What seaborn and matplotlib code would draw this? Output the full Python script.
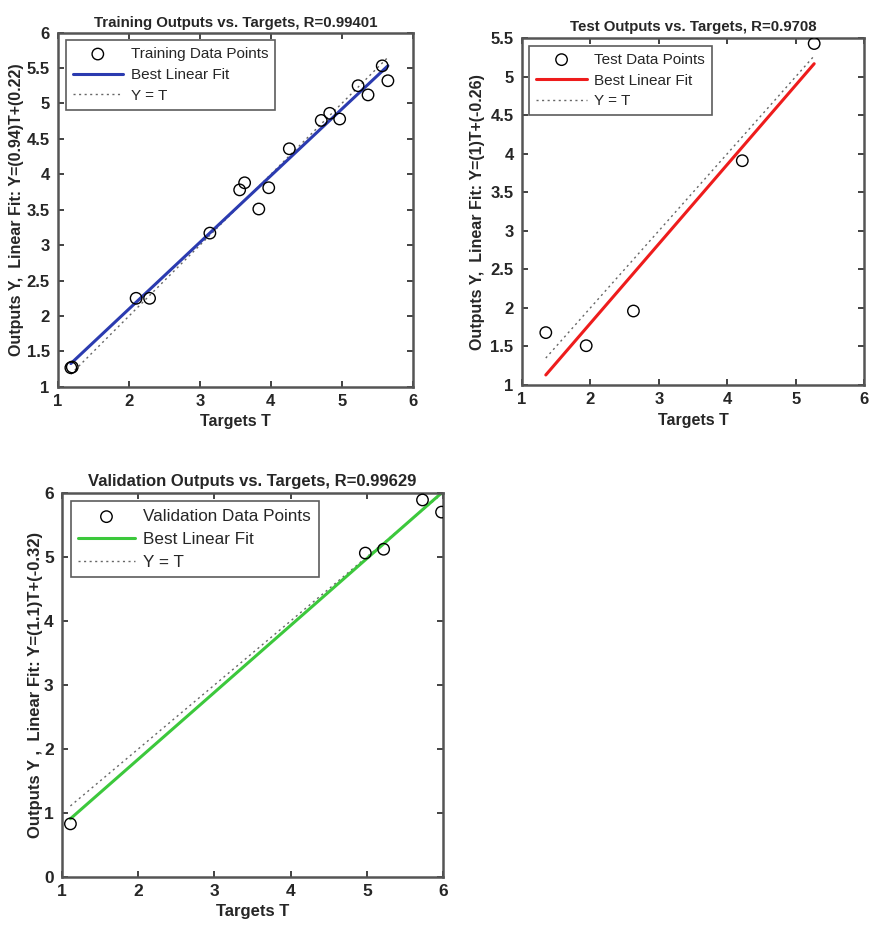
import numpy as np
import pandas as pd
import matplotlib
matplotlib.use("Agg")
import matplotlib.pyplot as plt
import seaborn as sns
from matplotlib import font_manager

sns.set_theme(style="white")

# ---------------- data ----------------
train_T = [1.18, 1.20, 2.10, 2.29, 3.14, 3.56, 3.63, 3.83, 3.97, 4.26, 4.71, 4.83, 4.97, 5.23, 5.37, 5.57, 5.65]
train_Y = [1.27, 1.28, 2.25, 2.25, 3.17, 3.78, 3.88, 3.51, 3.81, 4.36, 4.76, 4.86, 4.78, 5.25, 5.12, 5.53, 5.32]
train_fit = (0.94, 0.22)

test_T = [1.35, 1.94, 2.63, 4.22, 5.27]
test_Y = [1.68, 1.51, 1.96, 3.91, 5.43]
test_fit = (1.03, -0.26)

val_T = [1.11, 4.98, 5.22, 5.73, 5.98]
val_Y = [0.83, 5.06, 5.12, 5.89, 5.70]
val_fit = (1.045, -0.25)

titles = ["Training Outputs vs. Targets, R=0.99401",
          "Test Outputs vs. Targets, R=0.9708",
          "Validation Outputs vs. Targets, R=0.99629"]
ylabels = ["Outputs Y,  Linear Fit: Y=(0.94)T+(0.22)",
           "Outputs Y,  Linear Fit: Y=(1)T+(-0.26)",
           "Outputs Y ,  Linear Fit: Y=(1.1)T+(-0.32)"]
point_labels = ["Training Data Points", "Test Data Points", "Validation Data Points"]
fit_colors = ["#2b3bb0", "#ee1c1c", "#3cc83c"]
xticks = [1, 2, 3, 4, 5, 6]
yticks_list = [[1, 1.5, 2, 2.5, 3, 3.5, 4, 4.5, 5, 5.5, 6],
               [1, 1.5, 2, 2.5, 3, 3.5, 4, 4.5, 5, 5.5],
               [0, 1, 2, 3, 4, 5, 6]]
ylims = [(1, 6), (1, 5.5), (0, 6)]

# ---------------- fonts ----------------
names = {f.name for f in font_manager.fontManager.ttflist}
bold_font = "Liberation Sans Narrow" if "Liberation Sans Narrow" in names else "Liberation Sans"
plt.rcParams['font.family'] = ['Liberation Sans', 'DejaVu Sans']

fig = plt.figure(figsize=(8.8, 9.3), dpi=100)
positions = [[0.066, 0.584, 0.403, 0.381],
             [0.593, 0.586, 0.389, 0.373],
             [0.0705, 0.057, 0.433, 0.413]]
title_sizes = [10.8, 10.8, 12]
label_sizes = [11.5, 11.5, 12]
tick_sizes = [12, 12, 12.5]
legend_sizes = [11, 11, 12.3]
title_pads = [4, 5, 5]
ylabel_pads = [2, 4, 1]

datasets = [(train_T, train_Y, train_fit), (test_T, test_Y, test_fit), (val_T, val_Y, val_fit)]

for i, (T, Y, fit) in enumerate(datasets):
    ax = fig.add_axes(positions[i])
    df = pd.DataFrame({"T": T, "Y": Y})
    sns.scatterplot(data=df, x="T", y="Y", ax=ax, marker="o", s=68,
                    facecolors="none", edgecolor="black", linewidth=1.0,
                    label=point_labels[i], zorder=3)
    tx = np.array([min(T), max(T)])
    fit_df = pd.DataFrame({"T": tx, "Y": fit[0] * tx + fit[1]})
    sns.lineplot(data=fit_df, x="T", y="Y", ax=ax, color=fit_colors[i], lw=2.2,
                 label="Best Linear Fit", zorder=2)
    id_df = pd.DataFrame({"T": tx, "Y": tx})
    sns.lineplot(data=id_df, x="T", y="Y", ax=ax, color="#666666", lw=1.0,
                 linestyle=(0, (1.5, 2.5)), label="Y = T", zorder=1)

    ax.set_xlim(1, 6)
    ax.set_ylim(*ylims[i])
    ax.set_xticks(xticks)
    ax.set_yticks(yticks_list[i])
    ax.set_xticklabels([f"{v:g}" for v in xticks], fontfamily=bold_font,
                       fontweight="bold", fontsize=tick_sizes[i])
    ax.set_yticklabels([f"{v:g}" for v in yticks_list[i]], fontfamily=bold_font,
                       fontweight="bold", fontsize=tick_sizes[i])
    ax.tick_params(direction="in", length=4, width=1.2, top=True, right=True,
                   bottom=True, left=True, color="#222222")
    ax.tick_params(axis="x", pad=5)
    ax.tick_params(axis="y", pad=6)
    for s in ax.spines.values():
        s.set_visible(True)
        s.set_color("#555555")
        s.set_linewidth(1.8)
    ax.set_title(titles[i], fontfamily=bold_font, fontweight="bold",
                 fontsize=title_sizes[i], pad=title_pads[i])
    ax.set_xlabel("Targets T", fontfamily=bold_font, fontweight="bold",
                  fontsize=label_sizes[i], labelpad=4)
    ax.set_ylabel(ylabels[i], fontfamily=bold_font, fontweight="bold",
                  fontsize=label_sizes[i], labelpad=ylabel_pads[i])
    leg = ax.legend(loc="upper left", fontsize=legend_sizes[i], frameon=True, fancybox=False,
                    handlelength=3.3, borderpad=0.45, labelspacing=0.45,
                    borderaxespad=0.5, handletextpad=0.5)
    leg.get_frame().set_edgecolor("#333333")
    leg.get_frame().set_linewidth(1.2)
    ax.grid(False)

fig.savefig("out.png", dpi=100, facecolor="white")
